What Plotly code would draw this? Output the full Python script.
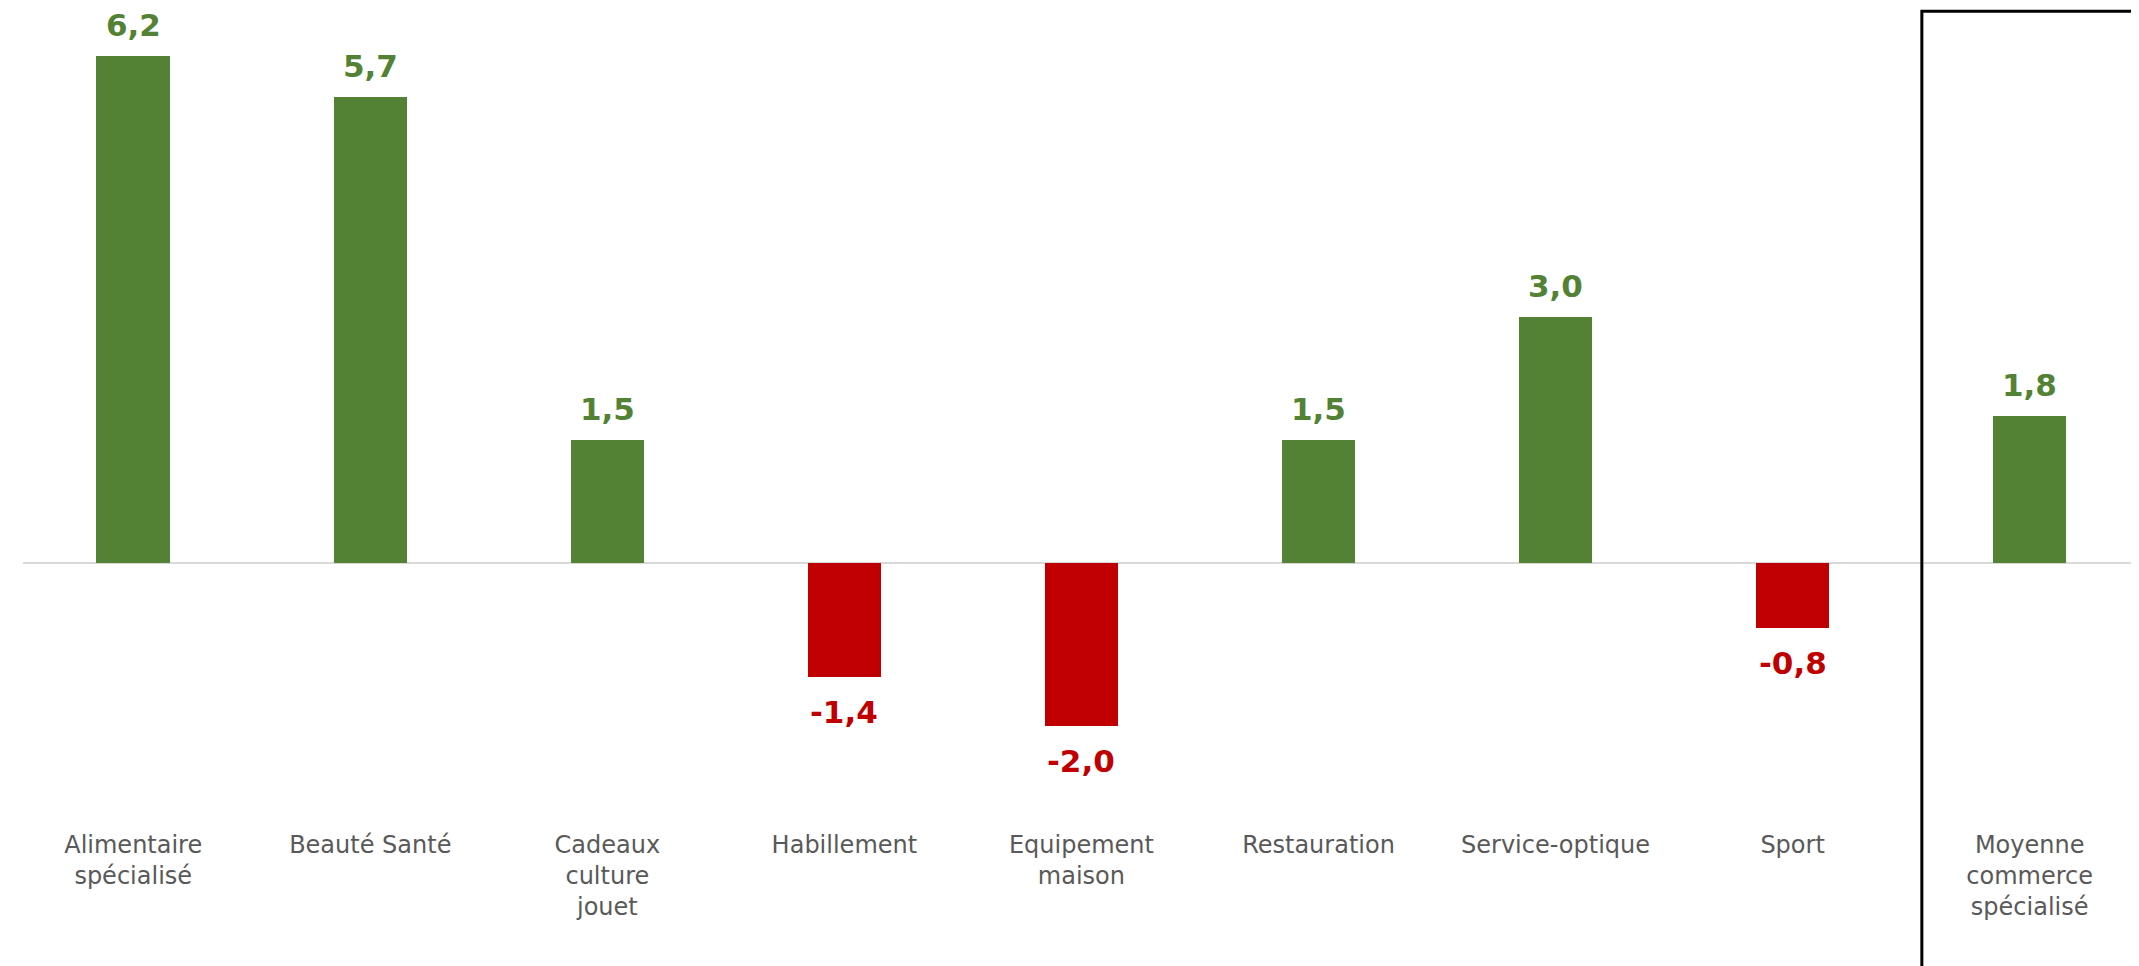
import plotly.graph_objects as go

categories = ["Alimentaire<br>spécialisé", "Beauté Santé", "Cadeaux<br>culture<br>jouet",
              "Habillement", "Equipement<br>maison", "Restauration", "Service-optique",
              "Sport", "Moyenne<br>commerce<br>spécialisé"]
values = [6.2, 5.7, 1.5, -1.4, -2.0, 1.5, 3.0, -0.8, 1.8]

GREEN = "#548235"
RED = "#C00000"
colors = [GREEN if v >= 0 else RED for v in values]
labels = [f"{v:.1f}".replace(".", ",") for v in values]
xs = list(range(len(categories)))

fig = go.Figure()
fig.add_trace(go.Bar(x=xs, y=values, marker=dict(color=colors, line=dict(width=0)),
                     width=0.31, hoverinfo="skip"))

for x, v, lab, c in zip(xs, values, labels, colors):
    fig.add_annotation(x=x, y=v, text=f"<b>{lab}</b>", showarrow=False,
                       yanchor="bottom" if v >= 0 else "top",
                       yshift=11 if v >= 0 else -15,
                       font=dict(size=31, color=c, family="DejaVu Sans"))

fig.add_shape(type="rect", xref="paper", yref="paper", x0=0.894, x1=1.05, y0=-0.3, y1=0.996,
              line=dict(color="black", width=3), fillcolor="rgba(0,0,0,0)")

fig.update_layout(
    width=2139, height=966,
    margin=dict(l=15, r=0, t=0, b=146),
    plot_bgcolor="white", paper_bgcolor="white",
    showlegend=False,
    bargap=0,
    xaxis=dict(range=[-0.465, 8.495], tickmode="array", tickvals=xs, ticktext=categories,
               showgrid=False, showline=False, zeroline=False, ticks="",
               tickfont=dict(size=24, color="#595959", family="DejaVu Sans")),
    yaxis=dict(range=[-3.242, 6.783], visible=True, showticklabels=False, showgrid=False,
               showline=False, ticks="",
               zeroline=True, zerolinecolor="#D9D9D9", zerolinewidth=2),
)

fig.write_html("out.html")
